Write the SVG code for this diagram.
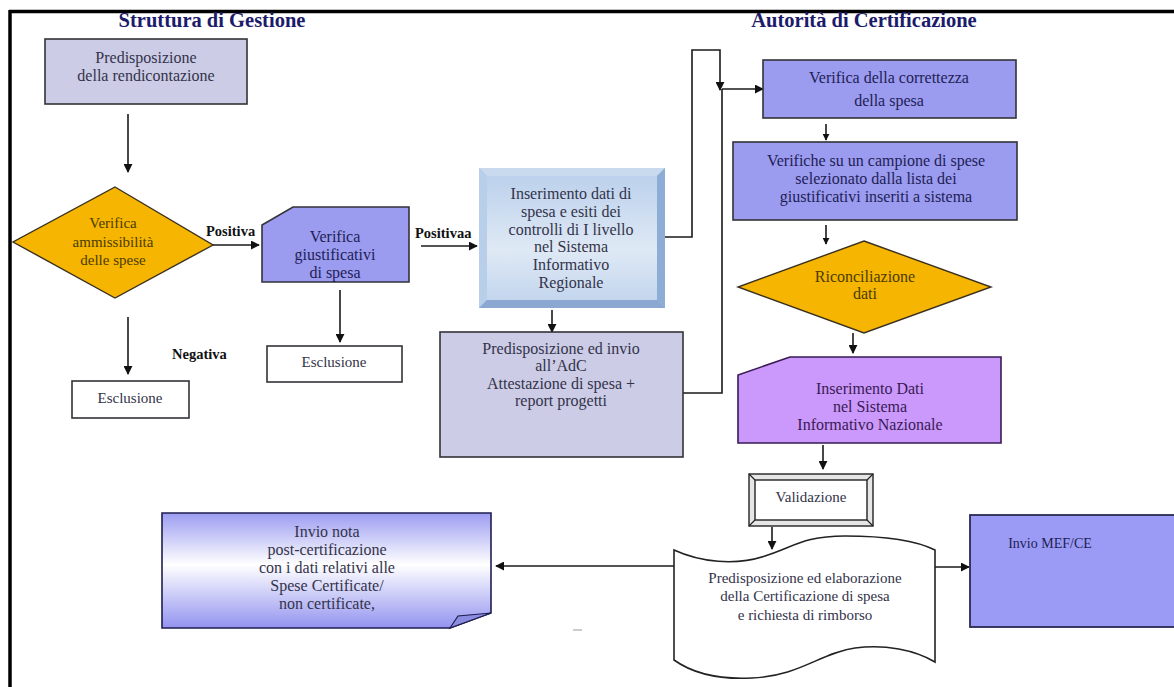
<svg xmlns="http://www.w3.org/2000/svg" width="1174" height="687" viewBox="0 0 1174 687" font-family="'Liberation Serif','Times New Roman',serif">
<style>
text{font-family:"Liberation Serif","Times New Roman",serif;font-size:16px;text-anchor:middle}
.s15{font-size:15px}
.title{font-size:20.5px;font-weight:bold;fill:#1c1c6b}
.lbl{font-size:14.5px;font-weight:bold;fill:#111;text-anchor:start}
.t-grey{fill:#33334a}
.t-blue{fill:#1e1e55}
.t-olive{fill:#4a3c00}
.t-purple{fill:#3a1a55}
.conn{fill:none;stroke:#1a1a1a;stroke-width:1.6}
.box{stroke:#333338;stroke-width:1.6}
</style>
<defs>
<marker id="ah" viewBox="0 0 10 10" refX="9" refY="5" markerWidth="9" markerHeight="9" markerUnits="userSpaceOnUse" orient="auto">
<path d="M0,0 L10,5 L0,10 Z" fill="#111"/>
</marker>
<marker id="ahs" viewBox="0 0 10 10" refX="9" refY="5" markerWidth="7" markerHeight="7" markerUnits="userSpaceOnUse" orient="auto">
<path d="M0,0 L10,5 L0,10 Z" fill="#111"/>
</marker>
<linearGradient id="gInner" x1="0" y1="0" x2="0" y2="1">
<stop offset="0" stop-color="#bcd1ec"/>
<stop offset="0.6" stop-color="#dfe9f5"/>
<stop offset="1" stop-color="#c3d6ee"/>
</linearGradient>
<linearGradient id="gNota" x1="0" y1="0" x2="0" y2="1">
<stop offset="0" stop-color="#9c9cf2"/>
<stop offset="0.45" stop-color="#ffffff"/>
<stop offset="1" stop-color="#9393f0"/>
</linearGradient>
</defs>

<g id="frame">
<line x1="9" y1="11.5" x2="1174" y2="11.5" stroke="#000" stroke-width="3.5"/>
<line x1="10" y1="10" x2="10" y2="687" stroke="#000" stroke-width="3.5"/>
</g>

<g id="titles">
<text class="title" x="212" y="27">Struttura di Gestione</text>
<text class="title" x="864" y="27">Autorità di Certificazione</text>
</g>

<g id="connectors">
<line class="conn" x1="128" y1="114" x2="128" y2="172" marker-end="url(#ah)"/>
<line class="conn" x1="213" y1="245" x2="259" y2="245" marker-end="url(#ah)"/>
<line class="conn" x1="128" y1="317" x2="128" y2="374" marker-end="url(#ah)"/>
<line class="conn" x1="340" y1="290" x2="340" y2="342" marker-end="url(#ah)"/>
<line class="conn" x1="421" y1="246" x2="477" y2="246" marker-end="url(#ah)"/>
<line class="conn" x1="552" y1="310" x2="552" y2="332" marker-end="url(#ah)"/>
<polyline class="conn" points="653,237 692,237 692,50 720,50 720,90" marker-end="url(#ah)"/>
<polyline class="conn" points="683,393 722,393 722,89"/>
<line class="conn" x1="722" y1="89" x2="763" y2="89" marker-end="url(#ah)"/>
<line class="conn" x1="826" y1="124" x2="826" y2="140" marker-end="url(#ahs)"/>
<line class="conn" x1="826" y1="225" x2="826" y2="244" marker-end="url(#ahs)"/>
<line class="conn" x1="853" y1="333" x2="853" y2="353" marker-end="url(#ah)"/>
<line class="conn" x1="823" y1="445" x2="823" y2="469" marker-end="url(#ah)"/>
<line class="conn" x1="772" y1="527" x2="772" y2="549" marker-end="url(#ah)"/>
<line class="conn" x1="935" y1="567" x2="969" y2="567" marker-end="url(#ah)"/>
<line class="conn" x1="674" y1="566" x2="496" y2="566" marker-end="url(#ah)"/>
</g>

<g id="labels">
<text class="lbl" x="206" y="236">Positiva</text>
<text class="lbl" x="415" y="238">Positivaa</text>
<text class="lbl" x="172" y="359">Negativa</text>
</g>

<g id="n-predisposizione">
<rect class="box" x="45" y="39" width="202" height="65" fill="#ccccE6"/>
<text class="t-grey" x="146" y="63">Predisposizione</text>
<text class="t-grey" x="146" y="81">della rendicontazione</text>
</g>

<g id="n-verifica-ammissibilita">
<polygon points="115,187 213,245 115,298 13,242" fill="#f6b500" stroke="#3a3020" stroke-width="1.4"/>
<text class="t-olive s15" x="113" y="228">Verifica</text>
<text class="t-olive s15" x="113" y="247">ammissibilità</text>
<text class="t-olive s15" x="113" y="265">delle spese</text>
</g>

<g id="n-esclusione1">
<rect class="box" x="72" y="381" width="117" height="37" fill="#fff"/>
<text class="t-grey s15" x="130" y="403">Esclusione</text>
</g>

<g id="n-verifica-giustificativi">
<polygon class="box" points="293,207 409,207 409,282 262,282 262,225" fill="#9b9bf0"/>
<text class="t-blue" x="335" y="242">Verifica</text>
<text class="t-blue" x="335" y="260">giustificativi</text>
<text class="t-blue" x="335" y="278">di spesa</text>
</g>

<g id="n-esclusione2">
<rect class="box" x="267" y="346" width="135" height="36" fill="#fff"/>
<text class="t-grey s15" x="334" y="367">Esclusione</text>
</g>

<g id="n-inserimento-regionale">
<rect x="479" y="168" width="186" height="140" fill="#a7c1e2"/>
<polygon points="479,168 665,168 657,176 487,176" fill="#c9daef"/>
<polygon points="479,168 487,176 487,300 479,308" fill="#b8cfea"/>
<polygon points="665,168 665,308 657,300 657,176" fill="#8eadd6"/>
<polygon points="479,308 665,308 657,300 487,300" fill="#8aa8d2"/>
<rect x="487" y="176" width="170" height="124" fill="url(#gInner)"/>
<text class="t-grey" x="571" y="199">Inserimento dati di</text>
<text class="t-grey" x="571" y="217">spesa e esiti dei</text>
<text class="t-grey" x="571" y="235">controlli di I livello</text>
<text class="t-grey" x="571" y="252">nel Sistema</text>
<text class="t-grey" x="571" y="270">Informativo</text>
<text class="t-grey" x="571" y="288">Regionale</text>
</g>

<g id="n-predisposizione-invio">
<rect class="box" x="440" y="332" width="243" height="125" fill="#ccccE6"/>
<text class="t-grey" x="561" y="354">Predisposizione ed invio</text>
<text class="t-grey" x="561" y="371">all’AdC</text>
<text class="t-grey" x="561" y="389">Attestazione di spesa +</text>
<text class="t-grey" x="561" y="406">report progetti</text>
</g>

<g id="n-verifica-correttezza">
<rect class="box" x="763" y="60" width="253" height="58" fill="#9b9bf0"/>
<text class="t-blue" x="889" y="83">Verifica della correttezza</text>
<text class="t-blue" x="889" y="106">della spesa</text>
</g>

<g id="n-verifiche-campione">
<rect class="box" x="733" y="142" width="284" height="78" fill="#9b9bf0"/>
<text class="t-blue" x="876" y="166">Verifiche su un campione di spese</text>
<text class="t-blue" x="876" y="184">selezionato dalla lista dei</text>
<text class="t-blue" x="876" y="202">giustificativi inseriti a sistema</text>
</g>

<g id="n-riconciliazione">
<polygon points="864,241 991,287 864,333 738,287" fill="#f6b500" stroke="#3a3020" stroke-width="1.4"/>
<text class="t-olive" x="865" y="282">Riconciliazione</text>
<text class="t-olive" x="865" y="299">dati</text>
</g>

<g id="n-inserimento-nazionale">
<polygon points="790,357 1001,357 1001,443 738,443 738,375" fill="#ca99fb" stroke="#3a1a55" stroke-width="1.6"/>
<text class="t-purple" x="870" y="394">Inserimento Dati</text>
<text class="t-purple" x="870" y="412">nel Sistema</text>
<text class="t-purple" x="870" y="430">Informativo Nazionale</text>
</g>

<g id="n-validazione">
<rect x="749" y="474" width="124" height="52" fill="#e6e6e6" stroke="#222" stroke-width="1.4"/>
<rect x="755" y="480" width="112" height="40" fill="#fff" stroke="#222" stroke-width="1.4"/>
<path d="M749,474 L755,480 M873,474 L867,480 M749,526 L755,520 M873,526 L867,520" stroke="#222" stroke-width="1.2"/>
<text class="t-grey s15" x="811" y="502">Validazione</text>
</g>

<g id="n-certificazione">
<path d="M674,550 C700,562 735,566 765,556 C795,546 805,536 845,536 C885,536 915,540 935,550 L935,662 C915,650 885,644 855,648 C820,653 800,676 752,678 C712,680 688,670 674,660 Z" fill="#fff" stroke="#222" stroke-width="1.6"/>
<text class="t-grey s15" x="805" y="583">Predisposizione ed elaborazione</text>
<text class="t-grey s15" x="805" y="601">della Certificazione di spesa</text>
<text class="t-grey s15" x="805" y="620">e richiesta di rimborso</text>
</g>

<g id="n-invio-mef">
<rect x="970" y="515" width="210" height="112" fill="#9b9bf5" stroke="#2a2a50" stroke-width="1.8"/>
<text class="t-blue" x="1050" y="548" style="font-size:14px">Invio MEF/CE</text>
</g>

<g id="n-invio-nota">
<path d="M162,513 L491,513 L491,613 L450,628 L162,628 Z" fill="url(#gNota)" stroke="#1e1e50" stroke-width="1.6"/>
<path d="M450,628 L458,616 L491,613 Z" fill="#8c8ce0" stroke="#1e1e50" stroke-width="1.2"/>
<text class="t-grey" x="327" y="537">Invio nota</text>
<text class="t-grey" x="327" y="555">post-certificazione</text>
<text class="t-grey" x="327" y="573">con i dati relativi alle</text>
<text class="t-grey" x="327" y="591">Spese Certificate/</text>
<text class="t-grey" x="327" y="609">non certificate,</text>
</g>

<rect x="573" y="629" width="9" height="2" fill="#cccccc"/>
</svg>
